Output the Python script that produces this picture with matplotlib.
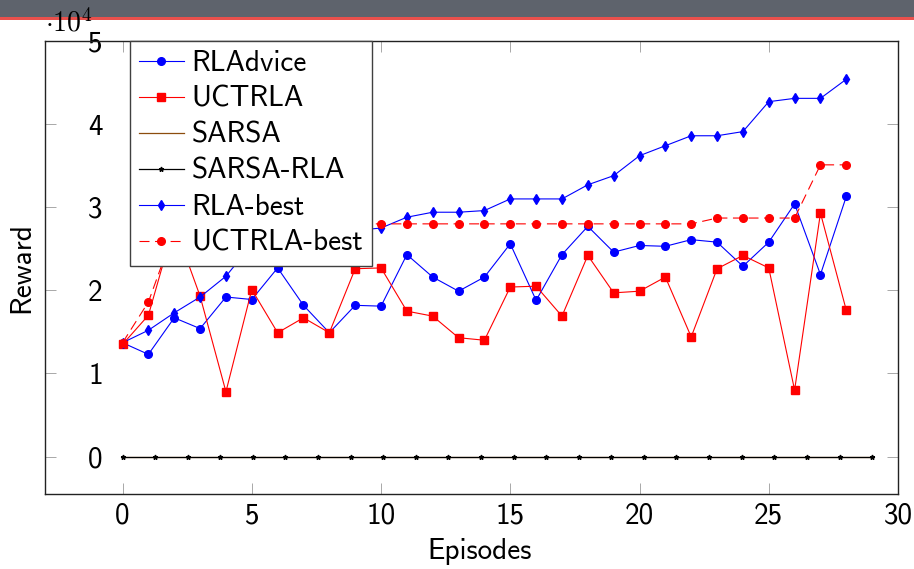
import matplotlib
matplotlib.use("Agg")
import matplotlib.pyplot as plt
from matplotlib.patches import Rectangle

# rewards in units of 1e4
episodes = list(range(29))
rladvice = [1.37, 1.23, 1.67, 1.54, 1.92, 1.89, 2.27, 1.82, 1.49, 1.82,
            1.81, 2.43, 2.16, 1.99, 2.16, 2.56, 1.88, 2.43, 2.77, 2.46,
            2.54, 2.53, 2.61, 2.58, 2.29, 2.58, 3.04, 2.19, 3.13]
uctrla = [1.35, 1.70, 2.79, 1.93, 0.78, 2.01, 1.49, 1.67, 1.49, 2.26,
          2.27, 1.75, 1.69, 1.43, 1.40, 2.04, 2.05, 1.69, 2.42, 1.97,
          1.99, 2.16, 1.44, 2.26, 2.42, 2.27, 0.80, 2.93, 1.76]
rla_best = [1.37, 1.52, 1.73, 1.92, 2.17, 2.55, 2.60, 2.65, 2.70, 2.72,
            2.75, 2.88, 2.94, 2.94, 2.96, 3.10, 3.10, 3.10, 3.27, 3.38,
            3.62, 3.74, 3.86, 3.86, 3.91, 4.27, 4.31, 4.31, 4.54]
uctrla_best = [1.37, 1.86, 2.72, 2.80, 2.80, 2.80, 2.80, 2.80, 2.80, 2.80,
               2.80, 2.80, 2.80, 2.80, 2.80, 2.80, 2.80, 2.80, 2.80, 2.80,
               2.80, 2.80, 2.80, 2.87, 2.87, 2.87, 2.87, 3.51, 3.51]
sarsa_x = [0, 1.26, 2.52, 3.78, 5.04, 6.3, 7.57, 8.83, 10.09, 11.35, 12.61,
           13.87, 15.13, 16.39, 17.65, 18.91, 20.17, 21.43, 22.7, 23.96,
           25.22, 26.48, 27.74, 29]
sarsa = [0] * 24
sarsa_rla = [0] * 24

x_ticks = [0, 5, 10, 15, 20, 25, 30]
y_ticks = [0, 1, 2, 3, 4, 5]

plt.rcParams['font.family'] = ['cmss10', 'DejaVu Sans']
plt.rcParams['mathtext.fontset'] = 'cm'
plt.rcParams['axes.unicode_minus'] = False
FS = 21

fig = plt.figure(figsize=(9.14, 5.69), dpi=100)

# slide header band
fig.patches.append(Rectangle((0, 1 - 17 / 569), 1, 17 / 569, transform=fig.transFigure,
                             facecolor='#5e636c', edgecolor='none', zorder=0))
fig.patches.append(Rectangle((0, 1 - 20 / 569), 1, 3 / 569, transform=fig.transFigure,
                             facecolor='#e9504c', edgecolor='none', zorder=0))

ax = fig.add_axes([45 / 914, 75 / 569, 853 / 914, 453 / 569])

ax.plot(episodes, rladvice, color='blue', lw=0.8, marker='o', ms=5.5, label='RLAdvice')
ax.plot(episodes, uctrla, color='red', lw=0.8, marker='s', ms=5.5, label='UCTRLA')
ax.plot(sarsa_x, sarsa, color=(0.55, 0.3, 0.05), lw=0.9, label='SARSA')
ax.plot(sarsa_x, sarsa_rla, color='black', lw=0.9, marker='*', ms=3.5, label='SARSA-RLA')
ax.plot(episodes, rla_best, color='blue', lw=0.8, marker='d', ms=5, label='RLA-best')
ax.plot(episodes, uctrla_best, color='red', lw=0.8, ls=(0, (9, 5)), marker='o', ms=5.5,
        label='UCTRLA-best')

ax.set_xlim(-3, 30)
ax.set_ylim(-0.45, 5)
ax.set_xticks(x_ticks)
ax.set_yticks(y_ticks)
ax.set_xticklabels([str(t) for t in x_ticks])
ax.set_yticklabels([str(t) for t in y_ticks])

ax.tick_params(axis='both', direction='in', length=8, width=0.7, color='#a8a8a8',
               labelsize=FS, top=True, right=True)
ax.tick_params(axis='x', pad=6)
ax.tick_params(axis='y', pad=-41.5)
for s in ax.spines.values():
    s.set_color('#222222')
    s.set_linewidth(1.0)

ax.set_xlabel('Episodes', fontsize=FS)
ax.set_ylabel('Reward', fontsize=FS)
ax.xaxis.set_label_coords(0.51, -0.097)
ax.yaxis.set_label_coords(-0.012, 0.5)

fig.text(45 / 914, 1 - 31 / 569, r'$\cdot\mathsf{10}^{\mathsf{4}}$', fontsize=FS - 1,
         ha='left', va='baseline')

leg = ax.legend(loc='upper left', bbox_to_anchor=(0.0997, 1.0), borderaxespad=0,
                fontsize=FS, frameon=True, fancybox=False, framealpha=1,
                edgecolor='#404040', handlelength=1.55, handletextpad=0.26,
                labelspacing=0.31, borderpad=0.3)
leg.get_frame().set_linewidth(1.0)

fig.savefig('out.png', dpi=100)
